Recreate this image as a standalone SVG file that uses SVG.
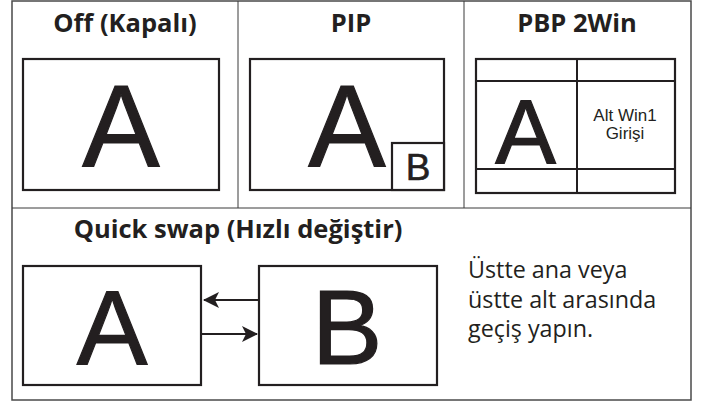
<svg xmlns="http://www.w3.org/2000/svg" width="704" height="404" viewBox="0 0 704 404">
<defs>
<style>
.frame{fill:none;stroke:#4a4a4a;stroke-width:1.5}
.div{fill:none;stroke:#3a3a3a;stroke-width:1}
.box{fill:#fff;stroke:#231f20;stroke-width:2.2}
.title{font-family:"Open Sans","DejaVu Sans",sans-serif;font-weight:bold;font-size:25.5px;fill:#231f20;text-anchor:middle}
.big{font-family:"Liberation Sans",Arial,sans-serif;fill:#231f20;stroke:#231f20;stroke-width:1.2;text-anchor:middle}
.small{font-family:"Liberation Sans",Arial,sans-serif;font-size:17px;fill:#231f20;text-anchor:middle}
.desc{font-family:"Open Sans","DejaVu Sans",sans-serif;font-size:23.3px;fill:#231f20}
.conn{stroke:#231f20;stroke-width:2;fill:none}
</style>
<marker id="ah" viewBox="0 0 16 16" refX="15" refY="8" markerWidth="16" markerHeight="16" markerUnits="userSpaceOnUse" orient="auto">
<path d="M0,0 L16,8 L0,16 L4,8 Z" fill="#231f20"/>
</marker>
</defs>
<rect width="704" height="404" fill="#fff"/>
<g id="frame">
<rect class="frame" x="12" y="1" width="679" height="399"/>
<line class="div" x1="12" y1="208" x2="691" y2="208"/>
<line class="div" x1="238" y1="1" x2="238" y2="208"/>
<line class="div" x1="464" y1="1" x2="464" y2="208"/>
</g>
<g id="off">
<text class="title" x="125" y="32">Off (Kapalı)</text>
<rect class="box" x="23" y="59" width="196" height="131"/>
<text class="big" x="121" y="167" font-size="116">A</text>
</g>
<g id="pip">
<text class="title" x="351" y="32">PIP</text>
<rect class="box" x="250" y="59" width="194" height="131"/>
<text class="big" x="347" y="167" font-size="116">A</text>
<rect class="box" x="392" y="143" width="52" height="47"/>
<text class="big" x="418" y="180" font-size="37" style="stroke-width:0.6">B</text>
</g>
<g id="pbp">
<text class="title" x="577" y="32">PBP 2Win</text>
<rect class="box" x="476" y="59" width="199" height="134"/>
<line class="conn" x1="577" y1="59" x2="577" y2="193"/>
<line class="conn" x1="476" y1="81" x2="675" y2="81"/>
<line class="conn" x1="476" y1="169" x2="675" y2="169"/>
<text class="big" x="525.5" y="163" font-size="91">A</text>
<text class="small" x="625" y="121">Alt Win1</text>
<text class="small" x="625" y="139">Girişi</text>
</g>
<g id="swap">
<text class="title" x="238" y="238">Quick swap (Hızlı değiştir)</text>
<g id="boxA">
<rect class="box" x="23" y="266" width="178" height="119"/>
<text class="big" x="112" y="364" font-size="106">A</text>
</g>
<g id="boxB">
<rect class="box" x="259" y="266" width="178" height="119"/>
<text class="big" x="347" y="364" font-size="106">B</text>
</g>
<text class="desc" x="468" y="278">Üstte ana veya</text>
<text class="desc" x="468" y="308">üstte alt arasında</text>
<text class="desc" x="468" y="337">geçiş yapın.</text>
</g>
<g id="connectors">
<line class="conn" x1="258" y1="300" x2="204" y2="300" marker-end="url(#ah)"/>
<line class="conn" x1="202" y1="334" x2="257" y2="334" marker-end="url(#ah)"/>
</g>
</svg>
